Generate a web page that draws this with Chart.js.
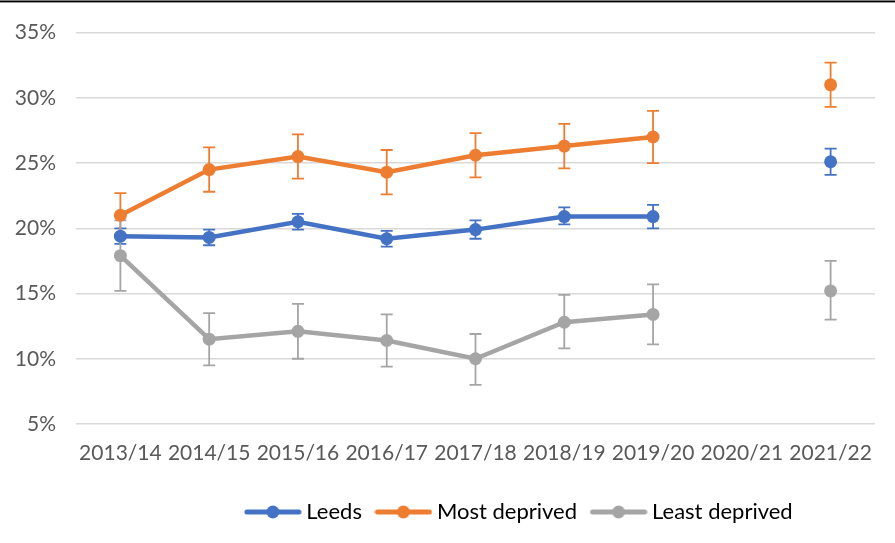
<!DOCTYPE html>
<html>
<head>
<meta charset="utf-8">
<script src="https://cdn.jsdelivr.net/npm/chart.js@4"></script>
<style>
  html, body { margin: 0; padding: 0; background: #fff; }
  #wrap { position: relative; width: 895px; height: 543px; }
  #topRule { position: absolute; left: 0; top: 0; width: 895px; height: 1px;
             background: #000; border-top: 1px solid #7f7f7f; border-bottom: 1px solid #9a9a9a; }
</style>
</head>
<body>
<div id="wrap">
  <canvas id="chart" width="895" height="543"></canvas>
  <div id="topRule"></div>
</div>
<script>
const years = ['2013/14', '2014/15', '2015/16', '2016/17', '2017/18', '2018/19', '2019/20', '2020/21', '2021/22'];

// percentages, 2020/21 has no data
const leeds     = [19.4, 19.3, 20.5, 19.2, 19.9, 20.9, 20.9, null, 25.1];
const leedsLow  = [18.8, 18.7, 19.9, 18.6, 19.2, 20.3, 20.0, null, 24.1];
const leedsHigh = [20.0, 19.9, 21.1, 19.8, 20.6, 21.6, 21.8, null, 26.1];

const mostDep     = [21.0, 24.5, 25.5, 24.3, 25.6, 26.3, 27.0, null, 31.0];
const mostDepLow  = [19.3, 22.8, 23.8, 22.6, 23.9, 24.6, 25.0, null, 29.3];
const mostDepHigh = [22.7, 26.2, 27.2, 26.0, 27.3, 28.0, 29.0, null, 32.7];

const leastDep     = [17.9, 11.5, 12.1, 11.4, 10.0, 12.8, 13.4, null, 15.2];
const leastDepLow  = [15.2,  9.5, 10.0,  9.4,  8.0, 10.8, 11.1, null, 13.0];
const leastDepHigh = [20.6, 13.5, 14.2, 13.4, 11.9, 14.9, 15.7, null, 17.5];

const yTicks = [5, 10, 15, 20, 25, 30, 35];

const BLUE = '#4472C4', ORANGE = '#ED7D31', GREY = '#A5A5A5';
const FONT = 'Lato, "Liberation Sans", sans-serif';

// little line-with-dot swatch for the legend
function swatch(color) {
    const c = document.createElement('canvas');
    c.width = 58; c.height = 16;
    const g = c.getContext('2d');
    g.strokeStyle = color; g.lineWidth = 5; g.lineCap = 'round';
    g.beginPath(); g.moveTo(3, 8); g.lineTo(55, 8); g.stroke();
    g.fillStyle = color;
    g.beginPath(); g.arc(29, 8, 6.5, 0, Math.PI * 2); g.fill();
    return c;
}

function series(label, data, low, high, color) {
    return {
        label: label, data: data, errLow: low, errHigh: high,
        borderColor: color, backgroundColor: color,
        borderWidth: 4.5, pointRadius: 6.5, pointHoverRadius: 6.5,
        pointBorderWidth: 0, pointBackgroundColor: color,
        spanGaps: false, tension: 0, legendSwatch: swatch(color)
    };
}

// vertical error bars with caps, drawn under the lines
const errorBars = {
    id: 'errorBars',
    beforeDatasetsDraw(chart) {
        const ctx = chart.ctx, y = chart.scales.y;
        chart.data.datasets.forEach((ds, i) => {
            const meta = chart.getDatasetMeta(i);
            ctx.save();
            ctx.strokeStyle = ds.borderColor;
            ctx.lineWidth = 1.8;
            meta.data.forEach((pt, j) => {
                if (ds.data[j] == null) return;
                const yl = y.getPixelForValue(ds.errLow[j]);
                const yh = y.getPixelForValue(ds.errHigh[j]);
                ctx.beginPath();
                ctx.moveTo(pt.x, yl); ctx.lineTo(pt.x, yh);
                ctx.moveTo(pt.x - 6, yl); ctx.lineTo(pt.x + 6, yl);
                ctx.moveTo(pt.x - 6, yh); ctx.lineTo(pt.x + 6, yh);
                ctx.stroke();
            });
            ctx.restore();
        });
    }
};

// legend sits a bit right of centre
const legendShift = {
    id: 'legendShift',
    afterLayout(chart) {
        chart.legend.left += 84;
        chart.legend.right += 84;
    }
};

new Chart(document.getElementById('chart'), {
    type: 'line',
    data: {
        labels: years,
        datasets: [
            series('Leeds', leeds, leedsLow, leedsHigh, BLUE),
            series('Most deprived', mostDep, mostDepLow, mostDepHigh, ORANGE),
            series('Least deprived', leastDep, leastDepLow, leastDepHigh, GREY)
        ]
    },
    options: {
        responsive: false,
        animation: false,
        layout: { padding: { top: 32, right: 20, bottom: 10, left: 0 } },
        scales: {
            x: {
                offset: true,
                grid: { display: false },
                border: { display: false },
                ticks: { color: '#595959', font: { family: FONT, size: 21 }, padding: 9, maxRotation: 0, autoSkip: false },
                afterFit: s => { s.height = 58; }
            },
            y: {
                min: 5, max: 35,
                grid: { color: '#d9d9d9', lineWidth: 1.5, drawTicks: false },
                border: { display: false },
                afterBuildTicks: s => { s.ticks = yTicks.map(v => ({ value: v })); },
                ticks: { color: '#595959', font: { family: FONT, size: 21 }, padding: 20, callback: v => v + '%' },
                afterFit: s => { s.width = 76; }
            }
        },
        plugins: {
            legend: {
                position: 'bottom',
                labels: {
                    color: '#595959',
                    font: { family: FONT, size: 22 },
                    usePointStyle: true,
                    boxWidth: 45, boxHeight: 16, pointStyleWidth: 45,
                    padding: 19,
                    generateLabels: chart => chart.data.datasets.map((ds, i) => ({
                        text: ds.label, pointStyle: ds.legendSwatch,
                        fillStyle: ds.borderColor, strokeStyle: ds.borderColor,
                        lineWidth: 0, datasetIndex: i, hidden: false
                    }))
                }
            },
            tooltip: { enabled: false }
        }
    },
    plugins: [errorBars, legendShift]
});
</script>
</body>
</html>
